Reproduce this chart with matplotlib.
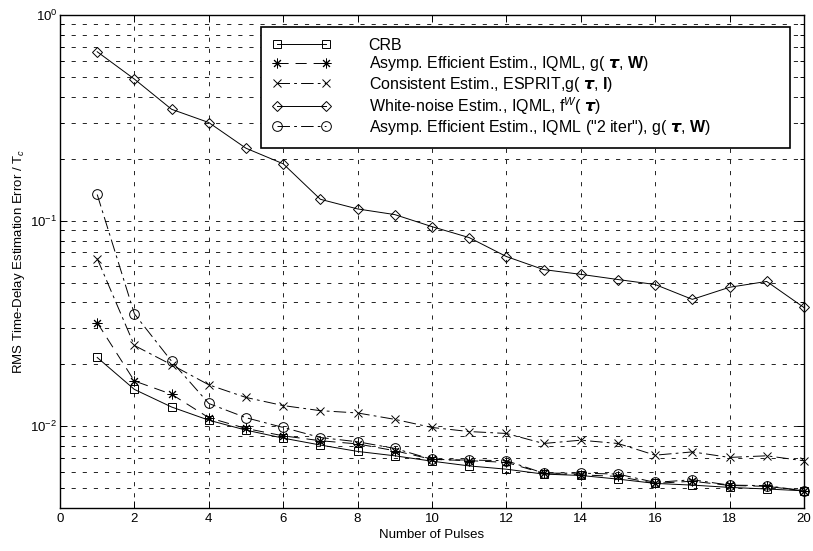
import matplotlib
matplotlib.use("Agg")
import matplotlib.pyplot as plt
from matplotlib.ticker import LogLocator, MultipleLocator, NullLocator

plt.rcParams['font.family'] = ['Liberation Sans', 'DejaVu Sans']
plt.rcParams['mathtext.fontset'] = 'custom'
plt.rcParams['mathtext.rm'] = 'Liberation Sans'
plt.rcParams['mathtext.it'] = 'Liberation Sans:italic'
plt.rcParams['mathtext.bf'] = 'Liberation Sans:bold'
plt.rcParams['lines.scale_dashes'] = False

# number of pulses
pulses = [1, 2, 3, 4, 5, 6, 7, 8, 9, 10, 11, 12, 13, 14, 15, 16, 17, 18, 19, 20]

# RMS error / Tc for each estimator
crb = [0.0216, 0.0151, 0.0124, 0.0107, 0.00957, 0.00875, 0.0081, 0.00754, 0.00718, 0.00676,
       0.00641, 0.00618, 0.00585, 0.00576, 0.00553, 0.00527, 0.00517, 0.00504, 0.00495, 0.00485]
asymp = [0.0319, 0.0166, 0.0143, 0.0110, 0.00975, 0.00898, 0.0085, 0.0082, 0.0076, 0.0069,
         0.0068, 0.00667, 0.0059, 0.0058, 0.0057, 0.00527, 0.0054, 0.00515, 0.0051, 0.00485]
esprit = [0.0654, 0.0247, 0.0199, 0.0159, 0.0138, 0.0126, 0.0119, 0.0116, 0.0108, 0.00986,
          0.00942, 0.00922, 0.00824, 0.00855, 0.00824, 0.00723, 0.0075, 0.00705, 0.00718, 0.00679]
white = [0.663, 0.488, 0.348, 0.30, 0.225, 0.189, 0.127, 0.114, 0.107, 0.0935,
         0.0827, 0.0669, 0.0578, 0.0548, 0.0517, 0.0489, 0.0414, 0.0474, 0.0506, 0.0378]
iter2 = [0.134, 0.0352, 0.0207, 0.0129, 0.0110, 0.00986, 0.00881, 0.0084, 0.0078, 0.0069,
         0.00684, 0.0068, 0.00591, 0.00591, 0.00585, 0.00533, 0.00549, 0.00517, 0.00514, 0.00485]

labels = [
    'CRB',
    r'Asymp. Efficient Estim., IQML, g( $\boldsymbol{\tau}$, $\mathbf{W}$)',
    r'Consistent Estim., ESPRIT,g( $\boldsymbol{\tau}$, $\mathbf{I}$)',
    r'White-noise Estim., IQML, f$^{W}$( $\boldsymbol{\tau}$)',
    r'Asymp. Efficient Estim., IQML ("2 iter"), g( $\boldsymbol{\tau}$, $\mathbf{W}$)',
]

dashed = (0, (8, 5))
dashdot = (0, (9, 3, 2, 3))

fig = plt.figure(figsize=(8.13, 5.51), dpi=100)
ax = fig.add_axes([0.0738, 0.078, 0.915, 0.8947])

common = dict(color='black', lw=0.7, mfc='none', mec='black', mew=0.7, clip_on=False, zorder=3)
ax.plot(pulses, crb, ls='-', marker='s', ms=5.5, label=labels[0], **common)
ax.plot(pulses, asymp, ls=dashed, marker=(8, 2, 0), ms=7, label=labels[1], **common)
ax.plot(pulses, esprit, ls=dashdot, marker='x', ms=5.5, label=labels[2], **common)
ax.plot(pulses, white, ls='-', marker='D', ms=5, label=labels[3], **common)
ax.plot(pulses, iter2, ls=dashdot, marker='o', ms=7, label=labels[4], **common)

ax.set_yscale('log')
ax.set_xlim(0, 20)
ax.set_ylim(4e-3, 1)
ax.xaxis.set_major_locator(MultipleLocator(2))
ax.xaxis.set_minor_locator(NullLocator())
ax.yaxis.set_major_locator(LogLocator(base=10))
ax.yaxis.set_minor_locator(LogLocator(base=10, subs=range(2, 10)))

grid_ls = (0, (3, 5))
ax.xaxis.grid(True, which='major', color='black', lw=0.6, ls=grid_ls)
ax.yaxis.grid(True, which='both', color='black', lw=0.6, ls=grid_ls)

ax.tick_params(which='both', direction='in', top=True, right=True, labelsize=9.5, width=0.7)
ax.tick_params(which='major', length=5)
ax.tick_params(which='minor', length=3)
ax.tick_params(axis='y', pad=2)
for sp in ax.spines.values():
    sp.set_linewidth(1.0)

ax.set_xlabel('Number of Pulses', fontsize=9.5, labelpad=3)
ax.set_ylabel('RMS Time-Delay Estimation Error / T$_c$', fontsize=9.5, labelpad=2)

leg = ax.legend(loc='upper left', bbox_to_anchor=(0.270, 0.734, 0.711, 0.242), mode='expand',
                borderaxespad=0, fontsize=11.5, numpoints=2, handlelength=3.7,
                handletextpad=2.35, labelspacing=0.08, borderpad=0.7, fancybox=False,
                framealpha=1, edgecolor='black')
leg.get_frame().set_linewidth(1.2)
leg.set_zorder(5)

fig.savefig('out.png', dpi=100)
